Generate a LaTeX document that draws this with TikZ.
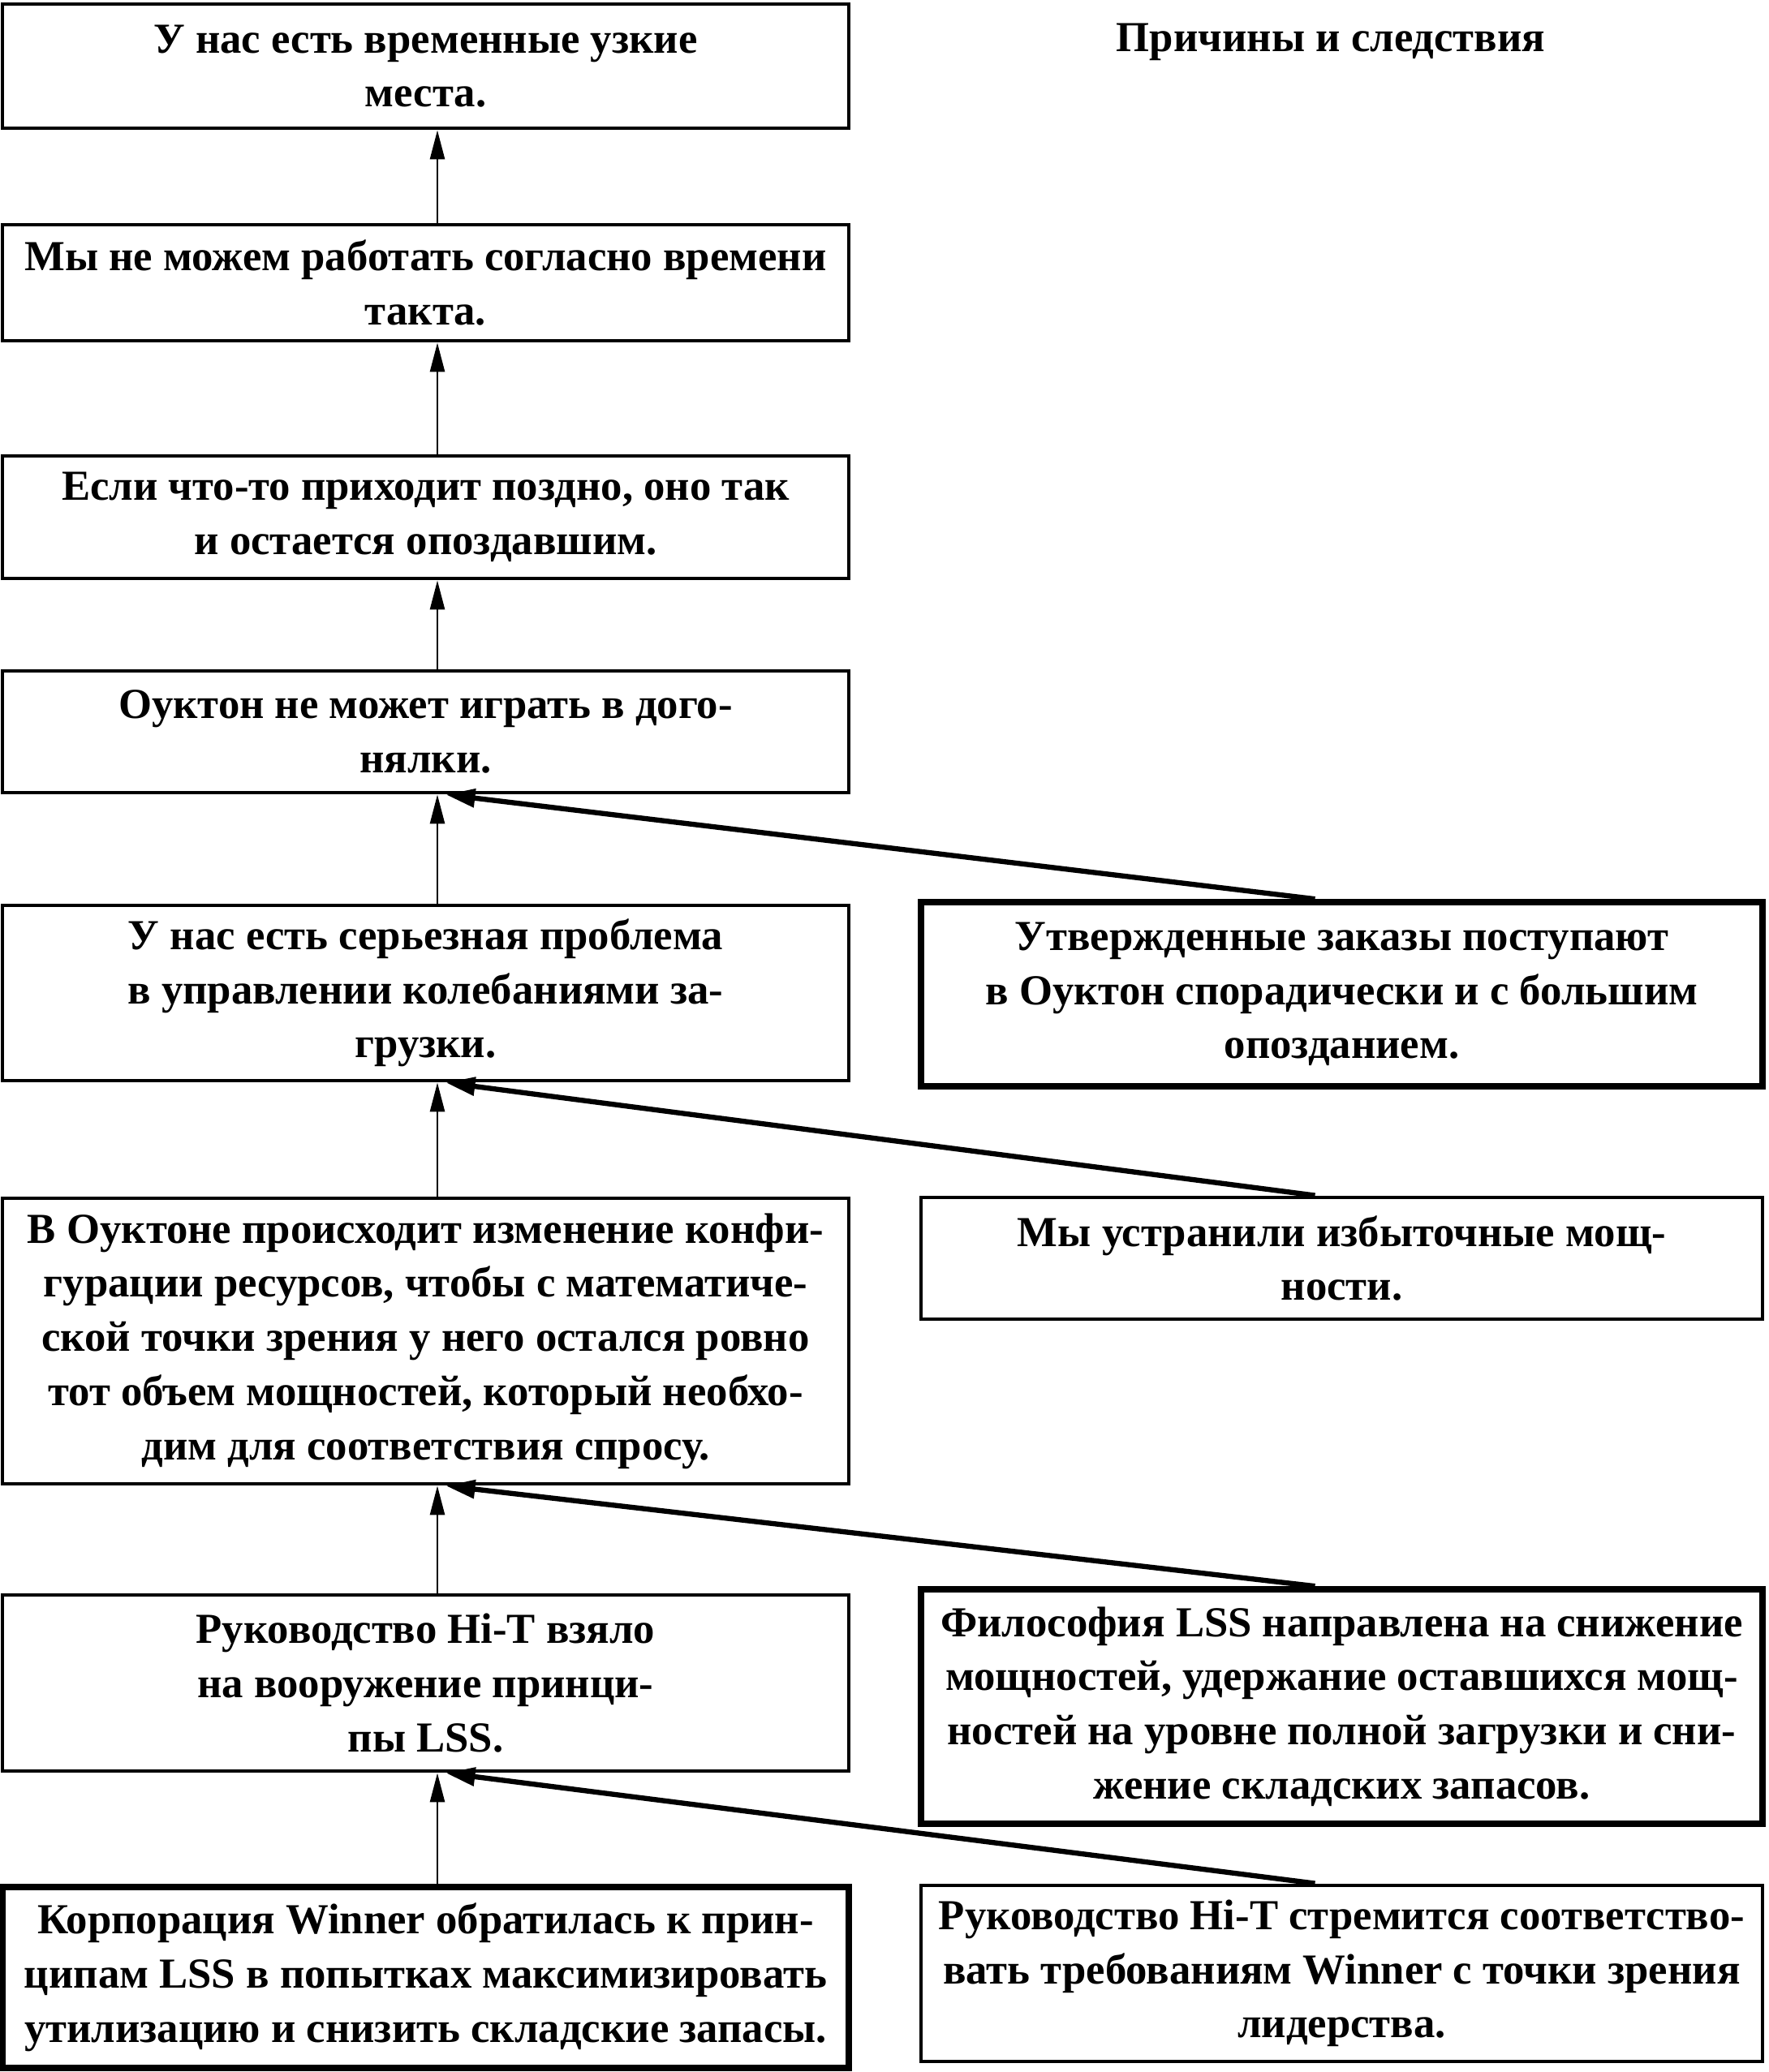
\documentclass[tikz,border=0pt]{standalone}
\usepackage{fontspec}
\setmainfont{Liberation Serif}
\usetikzlibrary{arrows.meta}
\tikzset{
  box/.style={draw, line width=1.4pt, align=center, inner sep=2pt,
    font=\bfseries\fontsize{15}{19}\selectfont},
  lbox/.style={box, minimum width=10.43cm},
  rbox/.style={box, minimum width=10.37cm},
  thickbox/.style={line width=2.2pt},
  varrow/.style={line width=0.8pt, -{Triangle[length=0.36cm,width=0.18cm]}},
  darrow/.style={line width=1.8pt, -{Triangle[length=0.36cm,width=0.22cm]}},
  titletext/.style={font=\bfseries\fontsize{15}{19}\selectfont}
}
\begin{document}
\begin{tikzpicture}
\useasboundingbox (0,0) rectangle (21.8,-25.54);
\node[titletext] (title) at (16.40,-0.52) {Причины и следствия};

\node[lbox, minimum height=1.53cm] (b1) at (5.245,-0.815) {У нас есть временные узкие\\места.};
\node[lbox, minimum height=1.43cm] (b2) at (5.245,-3.485) {Мы не можем работать согласно времени\\такта.};
\node[lbox, minimum height=1.51cm] (b3) at (5.245,-6.375) {Если что-то приходит поздно, оно так\\и остается опоздавшим.};
\node[lbox, minimum height=1.50cm] (b4) at (5.245,-9.02) {Оуктон не может играть в дого-\\нялки.};
\node[lbox, minimum height=2.16cm] (b5) at (5.245,-12.24) {У нас есть серьезная проблема\\в управлении колебаниями за-\\грузки.};
\node[lbox, minimum height=3.52cm] (b6) at (5.245,-16.53) {В Оуктоне происходит изменение конфи-\\гурации ресурсов, чтобы с математиче-\\ской точки зрения у него остался ровно\\тот объем мощностей, который необхо-\\дим для соответствия спросу.};
\node[lbox, minimum height=2.17cm] (b7) at (5.245,-20.745) {Руководство Hi-T взяло\\на вооружение принци-\\пы LSS.};
\node[lbox, thickbox, minimum height=2.23cm] (b8) at (5.245,-24.375) {Корпорация Winner обратилась к прин-\\ципам LSS в попытках максимизировать\\утилизацию и снизить складские запасы.};

\node[rbox, thickbox, minimum height=2.27cm] (r5) at (16.535,-12.255) {Утвержденные заказы поступают\\в Оуктон спорадически и с большим\\опозданием.};
\node[rbox, minimum height=1.50cm] (r6) at (16.535,-15.51) {Мы устранили избыточные мощ-\\ности.};
\node[rbox, thickbox, minimum height=2.89cm] (r7) at (16.535,-21.035) {Философия LSS направлена на снижение\\мощностей, удержание оставшихся мощ-\\ностей на уровне полной загрузки и сни-\\жение складских запасов.};
\node[rbox, minimum height=2.17cm] (r8) at (16.535,-24.325) {Руководство Hi-T стремится соответство-\\вать требованиям Winner с точки зрения\\лидерства.};

\foreach \lo/\hi in {b2/b1,b3/b2,b4/b3,b5/b4,b6/b5,b7/b6,b8/b7}
  \draw[varrow] ([xshift=0.145cm]\lo.north) -- ([xshift=0.145cm]\hi.south);

\foreach \lo/\hi in {r5/b4,r6/b5,r7/b6,r8/b7}
  \draw[darrow] ([xshift=-0.33cm]\lo.north) -- ([xshift=0.25cm]\hi.south);
\end{tikzpicture}
\end{document}
